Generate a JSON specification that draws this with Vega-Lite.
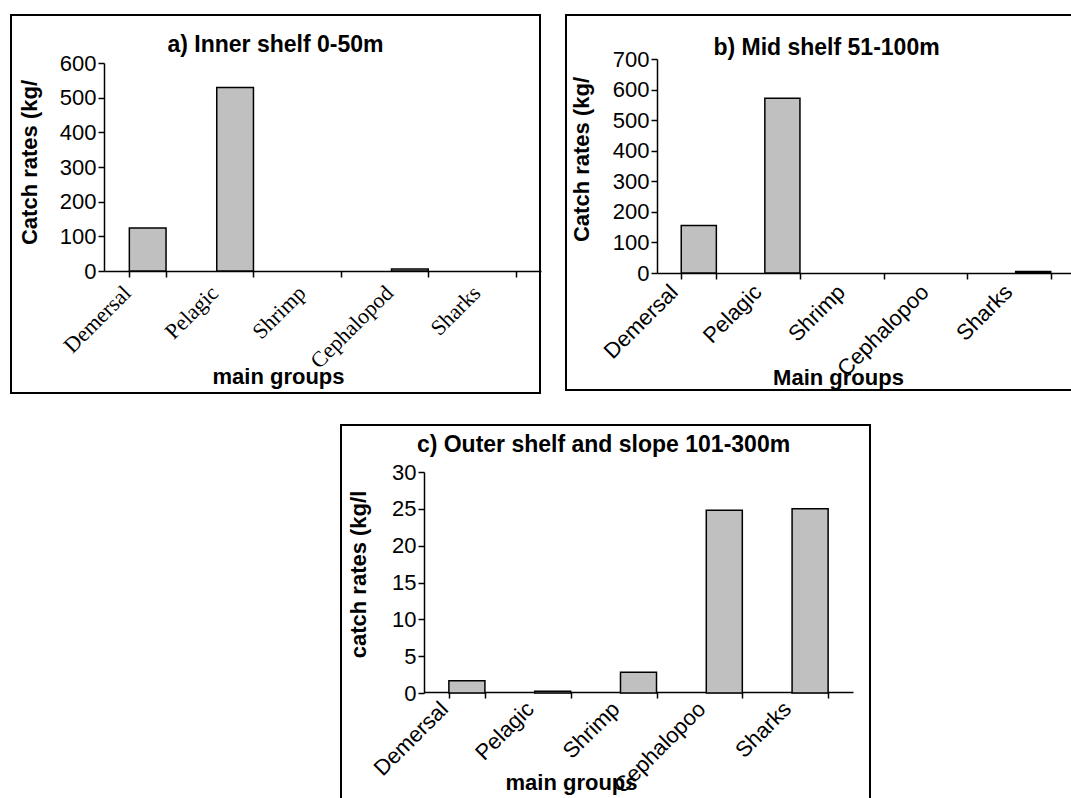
{
  "$schema": "https://vega.github.io/schema/vega-lite/v6.json",
  "padding": {"left": 9, "top": 14, "right": 0, "bottom": 0},
  "background": "white",
  "datasets": {
    "a": [
      {"group": "Demersal", "rate": 124},
      {"group": "Pelagic", "rate": 529},
      {"group": "Shrimp", "rate": 0},
      {"group": "Cephalopod", "rate": 6},
      {"group": "Sharks", "rate": 0}
    ],
    "b": [
      {"group": "Demersal", "rate": 155},
      {"group": "Pelagic", "rate": 572},
      {"group": "Shrimp", "rate": 0},
      {"group": "Cephalopoo", "rate": 0},
      {"group": "Sharks", "rate": 5}
    ],
    "c": [
      {"group": "Demersal", "rate": 1.65},
      {"group": "Pelagic", "rate": 0.25},
      {"group": "Shrimp", "rate": 2.8},
      {"group": "Cephalopoo", "rate": 24.8},
      {"group": "Sharks", "rate": 25.0}
    ]
  },
  "config": {
    "font": "Liberation Sans",
    "axis": {
      "grid": false,
      "domainColor": "black",
      "domainWidth": 1.5,
      "tickColor": "black",
      "tickWidth": 1.5,
      "tickSize": 6,
      "labelColor": "black",
      "titleColor": "black",
      "labelFont": "Liberation Sans",
      "titleFont": "Liberation Sans",
      "titleFontWeight": "bold",
      "titleFontSize": 22,
      "labelFontSize": 22,
      "labelOverlap": false,
      "labelBound": false
    },
    "title": {"font": "Liberation Sans", "fontSize": 23, "fontWeight": "bold", "color": "black"}
  },
  "spacing": 30,
  "vconcat": [
    {
      "spacing": 23,
      "hconcat": [
        {
          "data": {"name": "a"},
          "width": 529,
          "height": 378,
          "view": {"stroke": "black", "strokeWidth": 2, "fill": "white"},
          "title": {"text": "a) Inner shelf 0-50m", "frame": "group", "anchor": "middle", "offset": -60, "baseline": "alphabetic", "dx": 0},
          "mark": {"type": "bar", "fill": "#C0C0C0", "stroke": "black", "strokeWidth": 1.5},
          "encoding": {
            "x": {
              "field": "group", "type": "nominal", "sort": null,
              "scale": {"range": [93, 530], "paddingInner": 0.58, "paddingOuter": 0.29},
              "axis": {"title": "main groups", "offset": -122, "tickBand": "extent", "labelAngle": -45, "labelAlign": "right", "labelBaseline": "top", "labelOffset": -28, "labelPadding": 5, "labelFont": "Liberation Serif", "labelFontSize": 22, "titleX": 267, "titleY": 112, "titleBaseline": "alphabetic"}
            },
            "y": {
              "field": "rate", "type": "quantitative",
              "scale": {"domain": [0, 600], "range": [256, 48], "nice": false},
              "axis": {"title": "Catch rates (kg/", "offset": -93, "values": [0, 100, 200, 300, 400, 500, 600], "titleX": -68, "titleY": 147, "titleBaseline": "alphabetic"}
            },
            "strokeOpacity": {"condition": {"test": "datum.rate == 0", "value": 0}, "value": 1}
          }
        },
        {
          "data": {"name": "b"},
          "width": 509,
          "height": 375,
          "view": {"stroke": "black", "strokeWidth": 2, "fill": "white"},
          "title": {"text": "b) Mid shelf 51-100m", "frame": "group", "anchor": "middle", "offset": -63, "baseline": "alphabetic", "dx": 6},
          "mark": {"type": "bar", "fill": "#C0C0C0", "stroke": "black", "strokeWidth": 1.5},
          "encoding": {
            "x": {
              "field": "group", "type": "nominal", "sort": null,
              "scale": {"range": [91, 509], "paddingInner": 0.58, "paddingOuter": 0.29},
              "axis": {"title": "Main groups", "offset": -117, "tickBand": "extent", "labelAngle": -45, "labelAlign": "right", "labelBaseline": "top", "labelOffset": -32, "labelFontSize": 22, "titleX": 272, "titleY": 111, "titleBaseline": "alphabetic"}
            },
            "y": {
              "field": "rate", "type": "quantitative",
              "scale": {"domain": [0, 700], "range": [258, 44], "nice": false},
              "axis": {"title": "Catch rates  (kg/", "offset": -91, "values": [0, 100, 200, 300, 400, 500, 600, 700], "titleX": -69, "titleY": 144, "titleBaseline": "alphabetic"}
            },
            "strokeOpacity": {"condition": {"test": "datum.rate == 0", "value": 0}, "value": 1}
          }
        }
      ]
    },
    {
      "spacing": 0,
      "hconcat": [
        {
          "data": {"values": [{}]},
          "width": 328,
          "height": 10,
          "view": {"stroke": null},
          "mark": {"type": "text"},
          "encoding": {"text": {"value": ""}}
        },
        {
          "data": {"name": "c"},
          "width": 529,
          "height": 375,
          "view": {"stroke": "black", "strokeWidth": 2, "fill": "white"},
          "title": {"text": "c) Outer shelf and slope 101-300m", "frame": "group", "anchor": "middle", "offset": -50, "baseline": "alphabetic", "dx": -2},
          "mark": {"type": "bar", "fill": "#C0C0C0", "stroke": "black", "strokeWidth": 1.5},
          "encoding": {
            "x": {
              "field": "group", "type": "nominal", "sort": null,
              "scale": {"range": [83, 512], "paddingInner": 0.58, "paddingOuter": 0.29},
              "axis": {"title": "main groups", "offset": -108, "tickBand": "extent", "labelAngle": -45, "labelAlign": "right", "labelBaseline": "top", "labelOffset": -30, "labelPadding": 0, "labelFontSize": 22, "titleX": 230, "titleY": 97, "titleBaseline": "alphabetic"}
            },
            "y": {
              "field": "rate", "type": "quantitative",
              "scale": {"domain": [0, 30], "range": [268, 47], "nice": false},
              "axis": {"title": "catch rates (kg/l", "offset": -83, "values": [0, 5, 10, 15, 20, 25, 30], "titleX": -59, "titleY": 149, "titleBaseline": "alphabetic"}
            },
            "strokeOpacity": {"condition": {"test": "datum.rate == 0", "value": 0}, "value": 1}
          }
        }
      ]
    }
  ]
}
